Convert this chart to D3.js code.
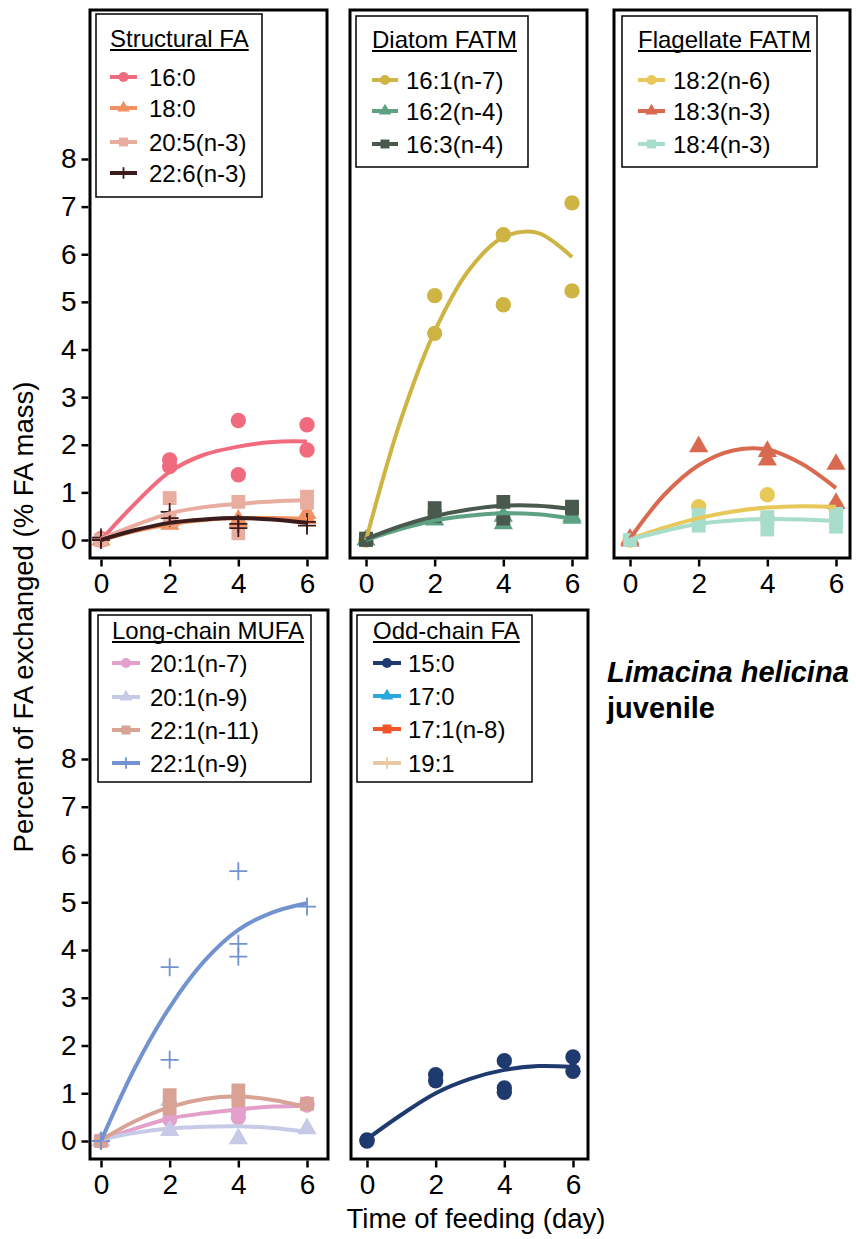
<!DOCTYPE html>
<html>
<head>
<meta charset="utf-8">
<script src="https://cdn.jsdelivr.net/npm/d3@7"></script>
<style>
body{margin:0;background:#fff}
svg{display:block}
text{font-family:"Liberation Sans",Arial,sans-serif;fill:#000}
</style>
</head>
<body>
<svg id="chart" width="856" height="1239"></svg>
<script>
// x axis (days) and the grid the smooth fits were read on
var days = [0, 2, 4, 6];
var fitDays = [0, 1, 2, 3, 4, 5, 6];
var yTicks = [0, 1, 2, 3, 4, 5, 6, 7, 8];

// Structural FA
var pts16_0 = [[0,0],[0,0.03],[2,1.68],[2,1.54],[4,2.51],[4,1.37],[6,2.42],[6,1.89]];
var fit16_0 = [0,0.77,1.43,1.79,1.96,2.06,2.07];
var pts18_0 = [[0,0],[2,0.33],[2,0.40],[4,0.42],[4,0.38],[6,0.56],[6,0.45]];
var fit18_0 = [0,0.19,0.33,0.42,0.46,0.46,0.44];
var pts20_5 = [[0,0],[2,0.88],[2,0.42],[4,0.80],[4,0.14],[6,0.91],[6,0.78]];
var fit20_5 = [0.02,0.31,0.56,0.69,0.76,0.81,0.84];
var pts22_6 = [[0,0],[0,0.05],[2,0.59],[2,0.46],[4,0.34],[4,0.25],[6,0.38],[6,0.30]];
var fit22_6 = [0,0.21,0.36,0.43,0.46,0.43,0.36];

// Diatom FATM
var pts16_1 = [[0,0],[2,5.13],[2,4.34],[4,6.41],[4,4.94],[6,7.08],[6,5.23]];
var fit16_1 = [0,2.49,4.38,5.67,6.36,6.45,5.94];
var pts16_2 = [[0,0],[2,0.42],[4,0.34],[4,0.50],[6,0.46],[6,0.50]];
var fit16_2 = [0,0.23,0.41,0.51,0.56,0.54,0.45];
var pts16_3 = [[0,0],[0,0.03],[2,0.67],[2,0.50],[4,0.80],[4,0.45],[6,0.70],[6,0.66]];
var fit16_3 = [0.02,0.29,0.50,0.64,0.72,0.72,0.65];

// Flagellate FATM
var pts18_2 = [[0,0],[2,0.70],[2,0.35],[4,0.95],[4,0.45],[6,0.70],[6,0.65]];
var fit18_2 = [0.02,0.26,0.46,0.60,0.68,0.71,0.70];
var pts18_3 = [[0,-0.02],[0,0.02],[2,1.96],[4,1.86],[4,1.68],[6,1.59],[6,0.77]];
var fit18_3 = [0.03,0.95,1.57,1.88,1.90,1.60,1.09];
var pts18_4 = [[0,0],[2,0.53],[2,0.30],[4,0.48],[4,0.22],[6,0.55],[6,0.28]];
var fit18_4 = [0.01,0.19,0.34,0.41,0.44,0.43,0.40];

// Long-chain MUFA
var pts20_1n7 = [[0,0],[2,0.45],[4,0.49],[4,0.62],[6,0.78],[6,0.75]];
var fit20_1n7 = [0.02,0.26,0.47,0.58,0.66,0.72,0.74];
var pts20_1n9 = [[0,0],[2,0.22],[2,0.85],[4,0.05],[6,0.26]];
var fit20_1n9 = [0.03,0.17,0.26,0.30,0.31,0.27,0.19];
var pts22_1n11 = [[0,0],[2,0.96],[2,0.68],[4,1.06],[4,0.85],[6,0.78]];
var fit22_1n11 = [0.02,0.42,0.71,0.88,0.93,0.86,0.71];
var pts22_1n9 = [[0,0],[2,3.64],[2,1.70],[4,5.65],[4,4.13],[4,3.86],[6,4.91]];
var fit22_1n9 = [0,1.55,2.80,3.76,4.42,4.79,4.98];

// Odd-chain FA (only 15:0 shows marks)
var pts15_0 = [[0,0],[0,0.02],[2,1.39],[2,1.26],[4,1.68],[4,1.11],[4,1.02],[6,1.76],[6,1.46]];
var fit15_0 = [0.04,0.55,1.00,1.30,1.49,1.57,1.55];

var panels = [
  {title:"Structural FA", left:90, right:327, top:10, bottom:558, px0:101, px6:307, py0:540, py8:159, yAxis:true,
   legend:{x:96, y:14, w:166, h:183, titleY:47, rows:[77,108,142,173], k0:110, k1:137, tx:149},
   series:[
     {name:"16:0", color:"#ef6b7d", shape:"circle", pts:pts16_0, fit:fit16_0},
     {name:"18:0", color:"#f19060", shape:"triangle", pts:pts18_0, fit:fit18_0},
     {name:"20:5(n-3)", color:"#e9ad9f", shape:"square", pts:pts20_5, fit:fit20_5},
     {name:"22:6(n-3)", color:"#3c1b1c", shape:"cross", pts:pts22_6, fit:fit22_6}]},
  {title:"Diatom FATM", left:350, right:587, top:10, bottom:558, px0:366, px6:572, py0:540, py8:159, yAxis:false,
   legend:{x:356, y:16, w:172, h:151, titleY:48, rows:[80,111,144], k0:372, k1:398, tx:406},
   series:[
     {name:"16:1(n-7)", color:"#cdb443", shape:"circle", pts:pts16_1, fit:fit16_1},
     {name:"16:2(n-4)", color:"#5ea283", shape:"triangle", pts:pts16_2, fit:fit16_2},
     {name:"16:3(n-4)", color:"#4a594d", shape:"square", pts:pts16_3, fit:fit16_3}]},
  {title:"Flagellate FATM", left:614, right:850, top:10, bottom:558, px0:630, px6:836, py0:540, py8:159, yAxis:false,
   legend:{x:622, y:16, w:195, h:151, titleY:48, rows:[80,111,144], k0:638, k1:665, tx:673},
   series:[
     {name:"18:2(n-6)", color:"#e9c85a", shape:"circle", pts:pts18_2, fit:fit18_2},
     {name:"18:3(n-3)", color:"#d96a50", shape:"triangle", pts:pts18_3, fit:fit18_3},
     {name:"18:4(n-3)", color:"#a8dccb", shape:"square", pts:pts18_4, fit:fit18_4}]},
  {title:"Long-chain MUFA", left:90, right:328, top:610, bottom:1159, px0:101, px6:307, py0:1141, py8:759, yAxis:true,
   legend:{x:98, y:615, w:213, h:167, titleY:639, rows:[663,697,730,763], k0:112, k1:140, tx:150},
   series:[
     {name:"20:1(n-7)", color:"#e3a0cb", shape:"circle", pts:pts20_1n7, fit:fit20_1n7},
     {name:"20:1(n-9)", color:"#c7cae6", shape:"triangle", pts:pts20_1n9, fit:fit20_1n9},
     {name:"22:1(n-11)", color:"#d8a295", shape:"square", pts:pts22_1n11, fit:fit22_1n11},
     {name:"22:1(n-9)", color:"#7393d0", shape:"cross", pts:pts22_1n9, fit:fit22_1n9}]},
  {title:"Odd-chain FA", left:351, right:588, top:610, bottom:1159, px0:367, px6:573, py0:1141, py8:759, yAxis:false,
   legend:{x:357, y:615, w:175, h:167, titleY:639, rows:[663,696,729,763], k0:373, k1:401, tx:408},
   series:[
     {name:"15:0", color:"#1f3a6e", shape:"circle", pts:pts15_0, fit:fit15_0},
     {name:"17:0", color:"#2aa7df", shape:"triangle", pts:[], fit:null},
     {name:"17:1(n-8)", color:"#f0562a", shape:"square", pts:[], fit:null},
     {name:"19:1", color:"#e8c9a4", shape:"cross", pts:[], fit:null}]}
];

var svg = d3.select("#chart");

function marker(sel, shape, color, scale) {
  if (shape=="cross") {
    var h = 9*scale;
    sel.append("path").attr("d","M"+(-h)+",0H"+h+"M0,"+(-h)+"V"+h)
      .attr("stroke",color).attr("stroke-width",1.8).attr("fill","none");
  } else {
    var type = shape=="circle"?d3.symbolCircle:(shape=="triangle"?d3.symbolTriangle:d3.symbolSquare);
    var size = shape=="circle"?185:(shape=="triangle"?160:190);
    sel.append("path").attr("d",d3.symbol().type(type).size(size*scale*scale)()).attr("fill",color);
  }
}

panels.forEach(function(p){
  var x = d3.scaleLinear().domain([0,6]).range([p.px0,p.px6]);
  var y = d3.scaleLinear().domain([0,8]).range([p.py0,p.py8]);
  var g = svg.append("g");

  //points first, smooth fits on top
  p.series.forEach(function(s){
    s.pts.forEach(function(d){
      var m = g.append("g").attr("transform","translate("+x(d[0])+","+y(d[1])+")");
      marker(m, s.shape, s.color, 1);
    });
  });
  var line = d3.line().x(function(d,i){return x(fitDays[i]);}).y(function(d){return y(d);})
    .curve(d3.curveCatmullRom.alpha(0.5));
  p.series.forEach(function(s){
    if (!s.fit) return;
    g.append("path").attr("d",line(s.fit)).attr("fill","none")
      .attr("stroke",s.color).attr("stroke-width",4).attr("stroke-linecap","butt");
  });

  //frame
  g.append("rect").attr("x",p.left).attr("y",p.top)
    .attr("width",p.right-p.left).attr("height",p.bottom-p.top)
    .attr("fill","none").attr("stroke","#000").attr("stroke-width",3);

  //axes
  var xa = g.append("g").attr("transform","translate(0,"+(p.bottom+1.5)+")")
    .call(d3.axisBottom(x).tickValues(days).tickFormat(d3.format("d")).tickSize(7).tickPadding(7).tickSizeOuter(0));
  xa.select(".domain").remove();
  xa.selectAll("line").attr("stroke-width",2.5);
  xa.selectAll("text").style("font-size","28px").attr("fill","#000");
  if (p.yAxis) {
    var ya = g.append("g").attr("transform","translate("+(p.left-1.5)+",0)")
      .call(d3.axisLeft(y).tickValues(yTicks).tickFormat(d3.format("d")).tickSize(7).tickPadding(5).tickSizeOuter(0));
    ya.select(".domain").remove();
    ya.selectAll("line").attr("stroke-width",2.5);
    ya.selectAll("text").style("font-size","28px").attr("fill","#000");
  }

  //legend
  var L = p.legend;
  g.append("rect").attr("x",L.x).attr("y",L.y).attr("width",L.w).attr("height",L.h)
    .attr("fill","#fff").attr("stroke","#000").attr("stroke-width",1.5);
  var tt = g.append("text").attr("x",L.k0).attr("y",L.titleY).style("font-size","24px").text(p.title);
  var tw = tt.node().getComputedTextLength();
  g.append("line").attr("x1",L.k0).attr("x2",L.k0+tw).attr("y1",L.titleY+3).attr("y2",L.titleY+3)
    .attr("stroke","#000").attr("stroke-width",2);
  p.series.forEach(function(s,i){
    var cy = L.rows[i];
    g.append("line").attr("x1",L.k0).attr("x2",L.k1).attr("y1",cy).attr("y2",cy)
      .attr("stroke",s.color).attr("stroke-width",4);
    var m = g.append("g").attr("transform","translate("+((L.k0+L.k1)/2)+","+cy+")");
    marker(m, s.shape, s.color, 0.65);
    g.append("text").attr("x",L.tx).attr("y",cy+9).style("font-size","24px").text(s.name);
  });
});

// axis titles
svg.append("text").attr("transform","translate(33,617) rotate(-90)")
  .attr("text-anchor","middle").style("font-size","27.5px")
  .text("Percent of FA exchanged (% FA mass)");
svg.append("text").attr("x",476).attr("y",1228)
  .attr("text-anchor","middle").style("font-size","27.5px")
  .text("Time of feeding (day)");

// species note
svg.append("text").attr("x",607).attr("y",682).style("font-size","29px")
  .style("font-weight","bold").style("font-style","italic").text("Limacina helicina");
svg.append("text").attr("x",607).attr("y",718).style("font-size","29px")
  .style("font-weight","bold").text("juvenile");
</script>
</body>
</html>
